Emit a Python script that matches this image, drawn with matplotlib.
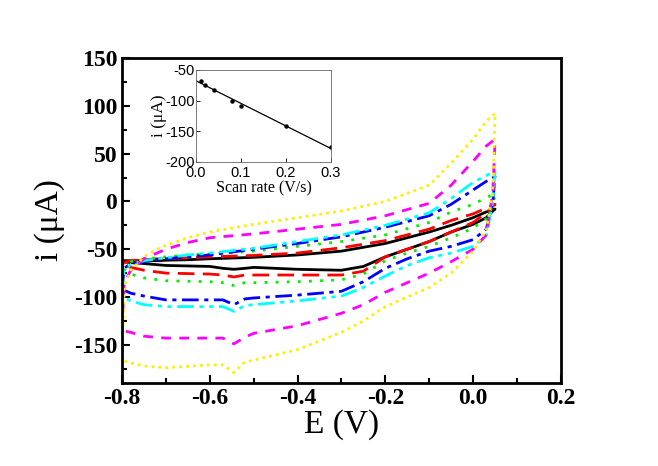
import numpy as np
import matplotlib
matplotlib.use("Agg")
import matplotlib.pyplot as plt
from matplotlib.ticker import MultipleLocator

# ---- Data ----
E_fwd = [-0.8, -0.795, -0.78, -0.75, -0.72, -0.7, -0.65, -0.6, -0.5, -0.4, -0.3, -0.2, -0.1, -0.05, 0.0, 0.03, 0.05]
E_rev = [0.05, 0.045, 0.03, 0.0, -0.05, -0.1, -0.15, -0.2, -0.25, -0.3, -0.4, -0.5, -0.52, -0.545, -0.57, -0.6, -0.7, -0.75, -0.78, -0.8]

i_fwd_black = [-63, -62, -62, -62, -62, -61.5, -61, -60, -58.5, -56, -52, -44, -32, -25, -17, -11, -8]
i_fwd_red = [-66, -64, -62, -61, -60, -60, -59, -58, -56.5, -54, -48.5, -41, -29, -20, -13, -7, -3]
i_fwd_green = [-70, -66, -63, -60, -59, -58, -56, -55, -52, -47, -42, -35, -22, -11, -3, 4, 8]
i_fwd_blue = [-92, -70, -65, -63, -61, -60, -58, -56, -50, -44, -37, -27, -15, -3, 12, 21, 26]
i_fwd_cyan = [-100, -72, -66, -62, -60, -59, -56, -54, -49, -42, -35, -25, -12, 3, 20, 27, 32]
i_fwd_magenta = [-135, -85, -72, -60, -54, -50, -43, -38, -34, -29, -24, -15, -2, 17, 42, 58, 65]
i_fwd_yellow = [-166, -90, -72, -58, -50, -46, -38, -32, -24, -17, -10, 0, 17, 40, 65, 84, 92]

i_rev_black = [-8, -10, -17, -24, -32, -42, -50, -58, -68, -72, -71, -69, -70, -71, -70, -68, -67, -65, -64, -63]
i_rev_red = [-3, -5, -12, -22, -32, -42, -50, -58, -73, -77, -77, -77, -77, -79, -77, -76, -75, -72, -69, -66]
i_rev_green = [8, -5, -18, -28, -38, -47, -54, -62, -76, -82, -84, -85, -85, -88, -85, -84, -83, -80, -76, -70]
i_rev_blue = [26, 0, -29, -40, -47, -52, -60, -70, -84, -94, -98, -101, -102, -108, -103, -103, -103, -99, -96, -92]
i_rev_cyan = [32, 0, -36, -47, -54, -59, -67, -78, -90, -99, -104, -108, -109, -115, -110, -110, -110, -108, -104, -100]
i_rev_magenta = [65, 10, -35, -50, -63, -75, -85, -95, -108, -117, -130, -138, -142, -149, -143, -143, -143, -141, -137, -135]
i_rev_yellow = [92, 10, -30, -52, -75, -90, -100, -110, -125, -137, -155, -166, -168, -179, -171, -171, -174, -172, -169, -166]

scan_rates = [0.01, 0.02, 0.04, 0.08, 0.1, 0.2, 0.3]
peak_currents = [-68, -74, -82, -100, -108, -142, -176]

curves = [
    (i_fwd_black, i_rev_black, "black", "-"),
    (i_fwd_red, i_rev_red, "red", (0, (6, 3))),
    (i_fwd_green, i_rev_green, "#00ee00", (0, (1, 3))),
    (i_fwd_blue, i_rev_blue, "blue", (0, (6, 2, 1.5, 2))),
    (i_fwd_cyan, i_rev_cyan, "cyan", (0, (6, 2, 1.5, 2, 1.5, 2))),
    (i_fwd_magenta, i_rev_magenta, "magenta", (0, (3.5, 3))),
    (i_fwd_yellow, i_rev_yellow, "#ffee00", (0, (1, 1.5))),
]

serif = ["Liberation Serif", "DejaVu Serif"]

fig = plt.figure(figsize=(6.58, 4.66), dpi=100)
ax = fig.add_axes([0.1854, 0.178, 0.667, 0.6975])

for fwd, rev, color, ls in curves:
    E = list(E_fwd) + list(E_rev)
    I = list(fwd) + list(rev)
    ax.plot(E, I, color=color, linestyle=ls, lw=2.0)

ax.set_xlim(-0.8, 0.2)
ax.set_ylim(-190, 150)
ax.xaxis.set_minor_locator(MultipleLocator(0.1))
ax.yaxis.set_minor_locator(MultipleLocator(25))
ax.tick_params(which="both", direction="in", top=False, right=False, width=1.5)
ax.tick_params(which="major", length=6)
ax.tick_params(which="minor", length=3.5)
for s in ax.spines.values():
    s.set_linewidth(2)
ax.set_xticks(np.arange(-0.8, 0.21, 0.2))
ax.set_xticklabels(["-0.8", "-0.6", "-0.4", "-0.2", "0.0", "0.2"])
ax.set_yticks(np.arange(-150, 151, 50))
ax.set_yticklabels([str(v) for v in range(-150, 151, 50)])
for lab in ax.get_xticklabels() + ax.get_yticklabels():
    lab.set_fontfamily(serif)
    lab.set_fontweight("bold")
    lab.set_fontsize(17)
ax.set_xlabel("E (V)", fontfamily=serif, fontsize=24, labelpad=0)
ax.set_ylabel("i (μA)", fontfamily=serif, fontsize=24, labelpad=6)

# ---- Inset ----
ins = fig.add_axes([0.2979, 0.6524, 0.2052, 0.1974])
ins.plot(scan_rates, peak_currents, "o", color="black", ms=2.2)
coef = np.polyfit(scan_rates, peak_currents, 1)
xs = np.array([0.0, 0.3])
ins.plot(xs, np.polyval(coef, xs), color="black", lw=0.9)
ins.set_xlim(0, 0.3)
ins.set_ylim(-200, -50)
ins.set_xticks([0.0, 0.1, 0.2, 0.3])
ins.set_xticklabels(["0.0", "0.1", "0.2", "0.3"])
ins.set_yticks([-200, -150, -100, -50])
ins.set_yticklabels(["-200", "-150", "-100", "-50"])
ins.tick_params(axis="y", direction="in", length=3, width=0.6, labelsize=10.5, pad=1)
ins.tick_params(axis="x", direction="in", length=3, width=0.6, labelsize=10.5, pad=3)
for lab in ins.get_xticklabels() + ins.get_yticklabels():
    lab.set_fontfamily(["Liberation Sans", "DejaVu Sans"])
for s in ins.spines.values():
    s.set_linewidth(0.6)
    s.set_color("#666666")
ins.set_xlabel("Scan rate (V/s)", fontfamily=serif, fontsize=11.5, labelpad=0)
ins.set_ylabel("i (μA)", fontfamily=serif, fontsize=12.5, labelpad=-1)

fig.savefig("out.png", dpi=100)
